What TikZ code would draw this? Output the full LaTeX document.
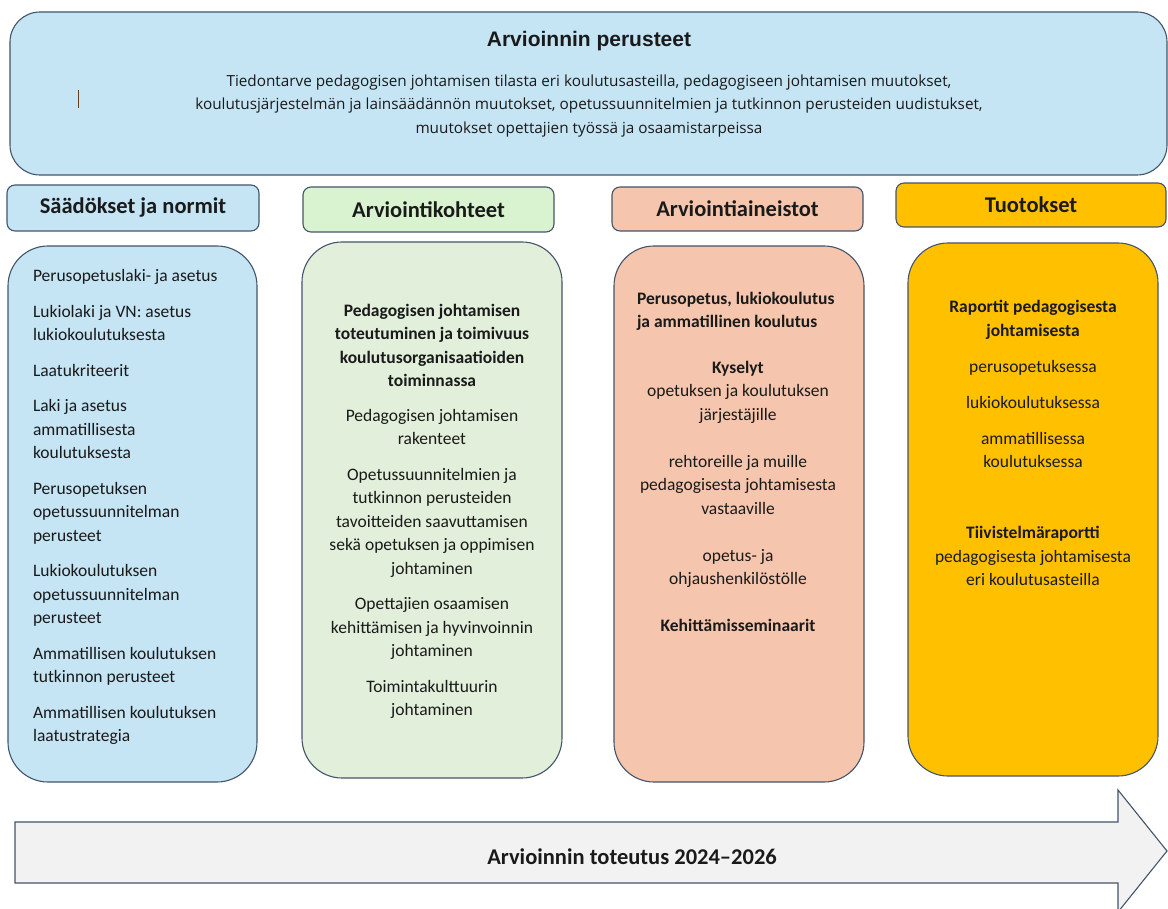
\documentclass[tikz,border=0pt]{standalone}
\usepackage{fontspec}
\setmainfont{Carlito}
\newfontfamily\arialfont{Liberation Sans}
\newfontfamily\segoefont{Open Sans}
\definecolor{bordc}{HTML}{44546A}
\definecolor{lblue}{HTML}{C5E4F4}
\definecolor{lgreenh}{HTML}{D9F2D0}
\definecolor{lgreen}{HTML}{E2EFDA}
\definecolor{salmon}{HTML}{F5C6AD}
\definecolor{gold}{HTML}{FFC000}
\definecolor{arrowc}{HTML}{F2F2F2}
\definecolor{txt}{HTML}{1A1A1A}
\tikzset{
  panel/.style={draw=bordc, line width=1.1pt, inner sep=0pt, outer sep=0pt},
  headbox/.style={panel, rounded corners=8pt, font=\fontsize{22.5}{26}\selectfont\bfseries, text=txt},
  colbox/.style={panel, rounded corners=40pt},
  body/.style={inner sep=0pt, outer sep=0pt, text=txt, font=\fontsize{17.5}{23.5}\selectfont},
}
\begin{document}
\begin{tikzpicture}[x=1pt,y=-1pt]
\useasboundingbox (0,0) rectangle (1168,909);
% top panel
\node (top) [panel, rounded corners=30pt, fill=lblue, minimum width=1157pt, minimum height=163pt] at (588.5,93.5) {};
\node (toptitle) [inner sep=0pt, text=txt, font=\arialfont\fontsize{21}{24}\selectfont\bfseries] at (589,41) {Arvioinnin perusteet};
\node (toptext) [body, anchor=north, align=center, font=\segoefont\fontsize{15.3}{23.5}\selectfont] at (589,74.5)
 {Tiedontarve pedagogisen johtamisen tilasta eri koulutusasteilla, pedagogiseen johtamisen muutokset,\\
  koulutusjärjestelmän ja lainsäädännön muutokset, opetussuunnitelmien ja tutkinnon perusteiden uudistukset,\\
  muutokset opettajien työssä ja osaamistarpeissa};
\coordinate (cura) at (78,90);
\coordinate (curb) at (78,108);
\draw[draw=brown!50!black, line width=0.9pt] (cura) -- (curb);
% headers
\node (h1) [headbox, fill=lblue, minimum width=252pt, minimum height=46pt] at (133,208) {Säädökset ja normit};
\node (h2) [headbox, fill=lgreenh, minimum width=251pt, minimum height=45pt] at (428.5,209.5) {Arviointikohteet};
\node (h3) [headbox, fill=salmon, minimum width=251pt, minimum height=44pt] at (737.5,209) {Arviointiaineistot};
\node (h4) [headbox, fill=gold, minimum width=270pt, minimum height=44pt] at (1031,205) {Tuotokset};
% columns
\node (c1) [colbox, fill=lblue, minimum width=249pt, minimum height=536pt] at (132.5,514) {};
\node (c2) [colbox, fill=lgreen, minimum width=260pt, minimum height=536pt] at (432,510) {};
\node (c3) [colbox, fill=salmon, minimum width=250pt, minimum height=536pt] at (739,514) {};
\node (c4) [colbox, fill=gold, minimum width=250pt, minimum height=533pt] at (1033,509.5) {};
% column texts
\node (t1) [body, anchor=north west, align=left] at (33,269.5)
 {Perusopetuslaki- ja asetus\\[12pt]
  Lukiolaki ja VN: asetus\\ lukiokoulutuksesta\\[12pt]
  Laatukriteerit\\[12pt]
  Laki ja asetus\\ ammatillisesta\\ koulutuksesta\\[12pt]
  Perusopetuksen\\ opetussuunnitelman\\ perusteet\\[12pt]
  Lukiokoulutuksen\\ opetussuunnitelman\\ perusteet\\[12pt]
  Ammatillisen koulutuksen\\ tutkinnon perusteet\\[12pt]
  Ammatillisen koulutuksen\\ laatustrategia};
\node (t2) [body, anchor=north, align=center] at (432,304)
 {\textbf{Pedagogisen johtamisen}\\ \textbf{toteutuminen ja toimivuus}\\ \textbf{koulutusorganisaatioiden}\\ \textbf{toiminnassa}\\[11pt]
  Pedagogisen johtamisen\\ rakenteet\\[12pt]
  Opetussuunnitelmien ja\\ tutkinnon perusteiden\\ tavoitteiden saavuttamisen\\ sekä opetuksen ja oppimisen\\ johtaminen\\[12pt]
  Opettajien osaamisen\\ kehittämisen ja hyvinvoinnin\\ johtaminen\\[12pt]
  Toimintakulttuurin\\ johtaminen};
\node (t3a) [body, anchor=north west, align=left] at (637,292)
 {\textbf{Perusopetus, lukiokoulutus}\\ \textbf{ja ammatillinen koulutus}};
\node (t3b) [body, anchor=north, align=center] at (738,361)
 {\textbf{Kyselyt}\\ opetuksen ja koulutuksen\\ järjestäjille\\[23.5pt]
  rehtoreille ja muille\\ pedagogisesta johtamisesta\\ vastaaville\\[23.5pt]
  opetus- ja\\ ohjaushenkilöstölle\\[23.5pt]
  \textbf{Kehittämisseminaarit}};
\node (t4) [body, anchor=north, align=center] at (1033,300.5)
 {\textbf{Raportit pedagogisesta}\\ \textbf{johtamisesta}\\[12.5pt]
  perusopetuksessa\\[12.5pt]
  lukiokoulutuksessa\\[12.5pt]
  ammatillisessa\\ koulutuksessa\\[47.5pt]
  \textbf{Tiivistelmäraportti}\\ pedagogisesta johtamisesta\\ eri koulutusasteilla};
% timeline arrow
\draw[fill=arrowc, draw=bordc, line width=1.1pt]
  (15,822) -- (1118,822) -- (1118,790) -- (1167,851) -- (1118,912) -- (1118,883) -- (15,883) -- cycle;
\node (arrowtext) [inner sep=0pt, text=txt, font=\fontsize{22.5}{26}\selectfont\bfseries] at (632,857) {Arvioinnin toteutus 2024–2026};
\end{tikzpicture}
\end{document}
